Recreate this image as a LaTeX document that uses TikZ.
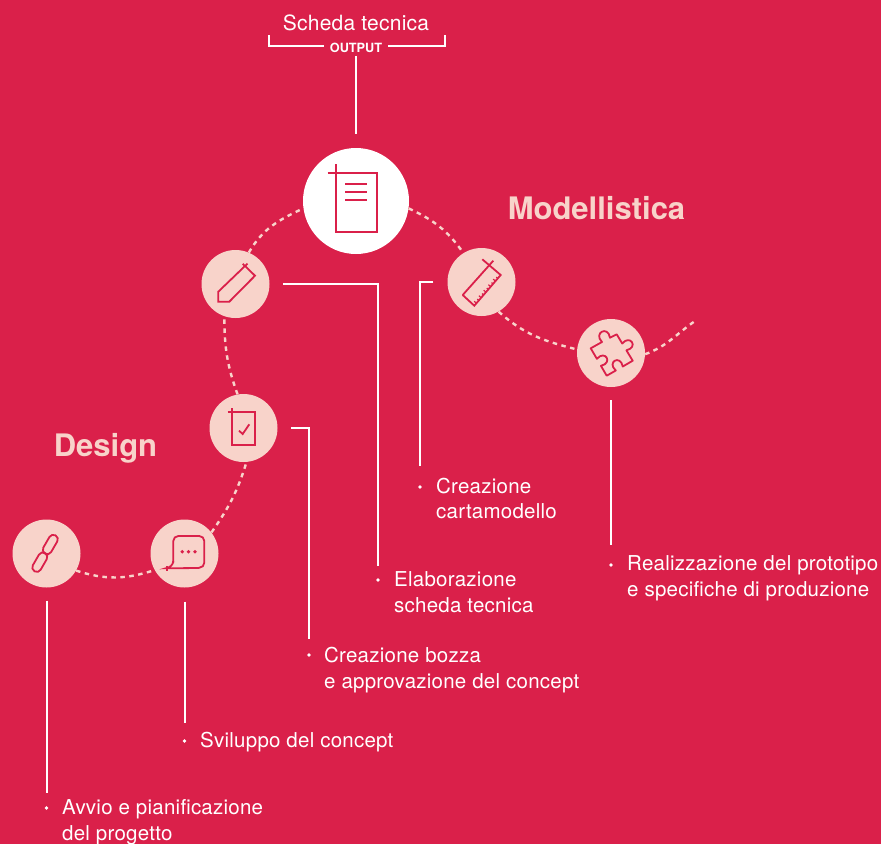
\documentclass[tikz,border=0pt]{standalone}
\usepackage{fontspec}
\setmainfont{TeX Gyre Heros}
\newfontfamily\spaced[LetterSpace=1.2]{TeX Gyre Heros}
\usetikzlibrary{calc}
\definecolor{bgred}{HTML}{DA204A}
\definecolor{blush}{HTML}{F8D3CA}
\tikzset{
 hub/.style={circle,fill=white,minimum size=106pt,inner sep=0},
 stagecirc/.style={circle,fill=blush,minimum size=68pt,inner sep=0},
 dashlink/.style={draw=blush,line width=2.4pt,dash pattern=on 4.5pt off 4.5pt},
 lead/.style={draw=white,line width=2pt},
 icon/.style={draw=bgred,line width=1.8pt,line join=miter},
 hubicon/.style={draw=bgred,line width=2.2pt},
 bul/.style={circle,fill=white,inner sep=0,minimum size=3.6pt},
 lbl/.style={text=white,font=\spaced\fontsize{20.5}{25.5}\selectfont,align=left,anchor=west,inner sep=0},
 heading/.style={text=blush,font=\fontsize{31}{34}\selectfont\bfseries,anchor=center,inner sep=0},
}
\begin{document}
\begin{tikzpicture}[x=1pt,y=-1pt]
\useasboundingbox (0,0) rectangle (881,844);
\fill[bgred] (0,0) rectangle (881,844);
% circles
\node[hub] (doc) at (356,201) {};
\node[stagecirc] (pencil) at (235.5,284) {};
\node[stagecirc] (check) at (243.5,428) {};
\node[stagecirc] (chat) at (184.5,553.5) {};
\node[stagecirc] (link) at (46.5,553.5) {};
\node[stagecirc] (ruler) at (481.5,282) {};
\node[stagecirc] (puzzle) at (611,353) {};
\coordinate (free) at (695,321);
% dashed arc
\draw[dashlink] (link.-30) to[out=-18,in=-162] (chat.-151);
\draw[dashlink] (chat.38) to[out=55,in=-107] (check.-85);
\draw[dashlink] (check.100) to[out=110,in=-90] (pencil.-109);
\draw[dashlink] (pencil.67) to[out=60,in=-155] (doc.188);
\draw[dashlink] (doc.-8) to[out=-25,in=125] (ruler.122);
\draw[dashlink] (ruler.-60) to[out=-42,in=166] (puzzle.174);
\draw[dashlink] (puzzle.-2) to[out=20,in=-145] (free);
% title
\node[text=white,font=\spaced\fontsize{21}{24}\selectfont,inner sep=0] (title) at (356,23) {Scheda tecnica};
\node[text=white,font=\fontsize{12.7}{14}\selectfont\bfseries,inner sep=0] (output) at (356,48) {OUTPUT};
\coordinate (bl) at (268.5,35);
\coordinate (br) at (444.5,35);
\coordinate (blc) at (268.5,45.5);
\coordinate (brc) at (444.5,45.5);
\coordinate (bli) at (324,45.5);
\coordinate (bri) at (388,45.5);
\draw[lead] (bl) -- (blc) -- (bli);
\draw[lead] (br) -- (brc) -- (bri);
\draw[lead,shorten <=3pt,shorten >=14pt] (output) -- (doc);
% headings
\node[heading] (hmod) at (596.5,208) {Modellistica};
\node[heading] (hdes) at (105.5,448) {Design};
% labels
\node[bul] (b1) at (46.5,808) {};
\node[lbl] (t1) at (62,822) {Avvio e pianificazione\\del progetto};
\node[bul] (b2) at (184.5,741) {};
\node[lbl] (t2) at (200,742) {Sviluppo del concept};
\node[bul] (b3) at (309,655) {};
\node[lbl] (t3) at (324,670) {Creazione bozza\\e approvazione del concept};
\node[bul] (b4) at (378,580) {};
\node[lbl] (t4) at (394,592) {Elaborazione\\scheda tecnica};
\node[bul] (b5) at (420,487) {};
\node[lbl] (t5) at (436,498.5) {Creazione\\cartamodello};
\node[bul] (b6) at (611,565) {};
\node[lbl] (t6) at (627,578.5) {Realizzazione del prototipo\\e specifiche di produzione};
% leaders
\draw[lead,shorten <=13pt,shorten >=13pt] (link) -- (b1);
\draw[lead,shorten <=14pt,shorten >=16pt] (chat) -- (b2);
\draw[lead,shorten <=13.5pt,shorten >=14pt] (check) -| (b3);
\draw[lead,shorten <=13.5pt,shorten >=12pt] (pencil) -| (b4);
\draw[lead,shorten <=14pt,shorten >=19pt] (ruler) -| (b5);
\draw[lead,shorten <=13pt,shorten >=18pt] (puzzle) -- (b6);
% doc icon
\draw[hubicon] (327.7,172.7) -- (376.7,172.7) -- (376.7,231.7) -- (336,231.7) -- (336,164);
\draw[hubicon] (345,184) -- (367,184) (345,192) -- (367,192) (345,200) -- (367,200);
% pencil icon
\draw[icon] (218.3,291.7) -- (245,266) -- (255,275.7) -- (229.3,301.7) -- (218.3,301.7) -- cycle;
\draw[icon] (245,266) -- (247.5,263.6) (245,266) -- (242.7,263.8);
% check icon
\draw[icon] (227.7,412.3) -- (255,412.3) -- (255,445) -- (231.7,445) -- (231.7,407.7);
\draw[icon] (239,430.7) -- (242.7,434) -- (249.3,424.3);
% chat icon
\draw[icon,rounded corners=5pt] (200,567.7) -- (204.3,567.7) -- (204.3,536) -- (173.3,536) -- (173.3,563);
\draw[icon] (173.3,561) .. controls (173,565) and (170,567.5) .. (165.7,568.3) -- (199,568);
\draw[icon] (166.7,566) -- (166.7,570.5);
\fill[bgred] (182.3,551.7) circle (1.9pt) (188.5,551.7) circle (1.9pt) (195,551.7) circle (1.9pt);
% link icon
\draw[icon,rounded corners=4.4pt,shift={(50.3,544.5)},rotate=60] (-10.5,-4.5) rectangle (10.5,4.5);
\draw[icon,rounded corners=4.4pt,shift={(39.8,562.2)},rotate=60] (-10.5,-4.5) rectangle (10.5,4.5);
% ruler icon
\draw[icon] (462.7,295) -- (474.3,305.7) -- (500.7,275) -- (482.3,259.3);
\draw[icon] (462.7,295) -- (493.3,260.7);
\foreach \t/\l in {0.08/3,0.17/2,0.26/3,0.35/2,0.44/3,0.53/2,0.62/3,0.71/2,0.8/3,0.89/2}{
 \draw[bgred,line width=1.2pt] ($(474.3,305.7)!\t!(500.7,275)$) -- ++(-0.74*\l,-0.67*\l);
}
% puzzle icon
\draw[icon,line join=round] (590.7,348.3) -- (602,342)
 .. controls (593,333) and (608,325) .. (610,337.7)
 -- (616.7,334.3) -- (622.2,343.5)
 .. controls (630.4,333.9) and (638.8,347.5) .. (626.4,350.3)
 -- (632.7,360.7) -- (622.8,366.5)
 .. controls (620.3,354.1) and (606.3,362.1) .. (615.8,370.5)
 -- (606.7,375.7) -- (600.9,365.8)
 .. controls (613.3,363.2) and (605.3,349.2) .. (596.9,358.8)
 -- cycle;
\end{tikzpicture}
\end{document}
